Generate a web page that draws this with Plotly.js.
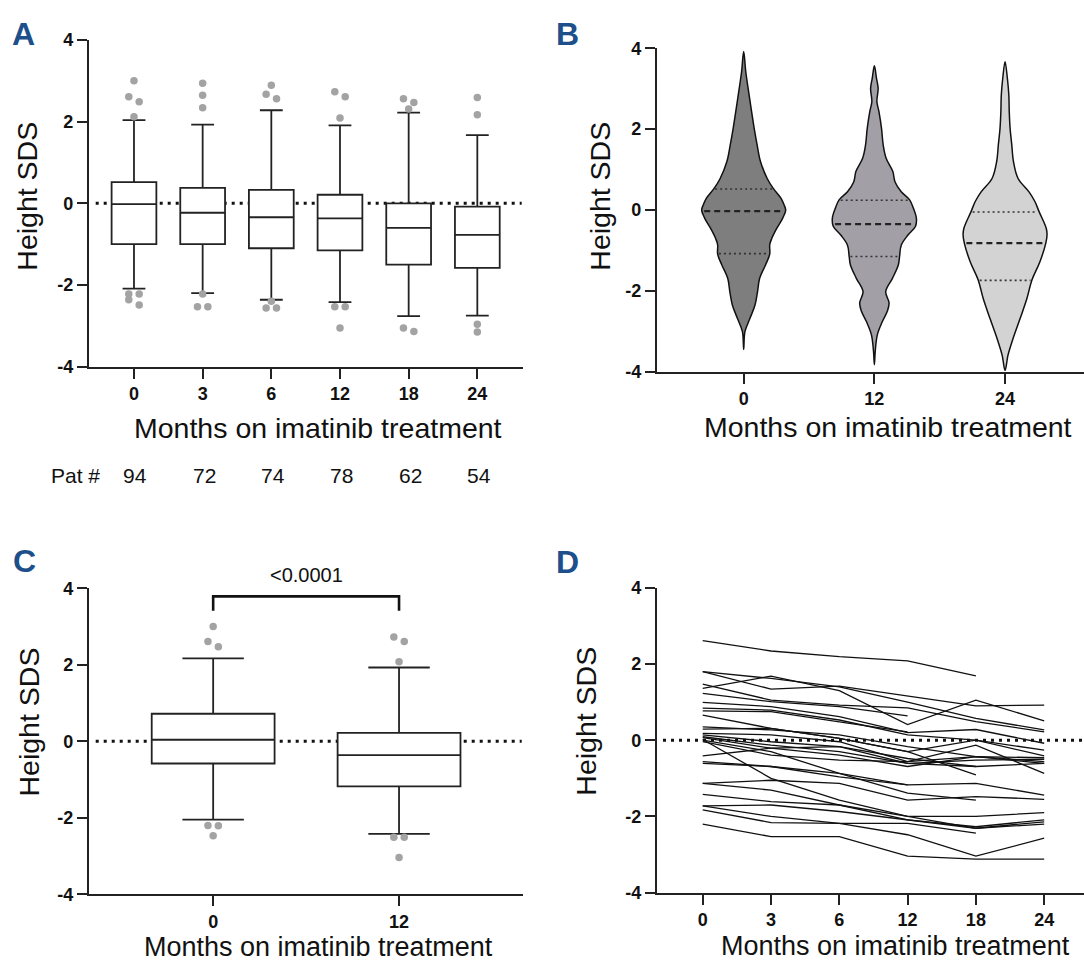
<!DOCTYPE html>
<html><head><meta charset="utf-8">
<script src="https://cdn.plot.ly/plotly-3.0.1.min.js"></script>
<style>html,body{margin:0;padding:0;background:#fff}#chart{width:1084px;height:964px}</style>
</head><body><div id="chart"></div>
<script>
// ---------- DATA ----------
// Panel A: box plots of height SDS by month
const monthsA = ['0', '3', '6', '12', '18', '24'];
const patCounts = [94, 72, 74, 78, 62, 54];
const aQ1 = [-1.00, -1.00, -1.10, -1.15, -1.50, -1.58];
const aMedian = [-0.02, -0.23, -0.34, -0.37, -0.60, -0.77];
const aQ3 = [0.52, 0.38, 0.33, 0.21, 0.00, -0.08];
const aLowerWhisker = [-2.09, -2.20, -2.36, -2.42, -2.76, -2.75];
const aUpperWhisker = [2.04, 1.93, 2.28, 1.91, 2.22, 1.67];
const aOutliers = [
  [3.00, 2.61, 2.49, 2.12, -2.22, -2.22, -2.36, -2.49],
  [2.94, 2.65, 2.34, -2.22, -2.53, -2.53],
  [2.89, 2.67, 2.56, -2.40, -2.56, -2.56],
  [2.73, 2.61, 2.09, -2.53, -2.53, -3.05],
  [2.56, 2.47, 2.31, -3.05, -3.14],
  [2.59, 2.17, -2.96, -3.15]
];

// Panel B: violin profiles (level -> relative density)
const monthsB = ['0', '12', '24'];
const v0Levels = [3.92, 3.42, 2.84, 2.02, 1.61, 1.20, 0.78, 0.54, 0.29, 0.13, 0.00, -0.20, -0.45, -0.70, -0.86, -1.09, -1.36, -1.69, -2.02, -2.35, -2.68, -3.01, -3.45];
const v0Density = [0, 0.05, 0.13, 0.25, 0.32, 0.40, 0.56, 0.70, 0.89, 0.96, 1.00, 0.93, 0.79, 0.67, 0.62, 0.62, 0.52, 0.38, 0.33, 0.27, 0.15, 0.03, 0];
const v1Levels = [3.57, 3.26, 3.01, 2.68, 2.43, 2.02, 1.61, 1.28, 0.95, 0.70, 0.45, 0.25, 0.04, -0.20, -0.40, -0.62, -0.87, -1.15, -1.36, -1.69, -2.02, -2.30, -2.50, -2.76, -3.09, -3.50, -3.83];
const v1Density = [0, 0.05, 0.09, 0.06, 0.11, 0.17, 0.21, 0.28, 0.44, 0.49, 0.64, 0.84, 0.93, 1.00, 0.98, 0.80, 0.64, 0.60, 0.57, 0.43, 0.27, 0.35, 0.31, 0.19, 0.07, 0.02, 0];
const v2Levels = [3.67, 3.26, 2.84, 2.43, 2.02, 1.61, 1.20, 0.78, 0.45, 0.21, -0.04, -0.45, -0.60, -0.82, -1.28, -1.73, -2.19, -2.68, -3.18, -3.59, -3.97];
const v2Density = [0, 0.055, 0.09, 0.10, 0.12, 0.16, 0.20, 0.31, 0.57, 0.71, 0.81, 0.98, 1.00, 0.97, 0.83, 0.64, 0.52, 0.36, 0.19, 0.07, 0];
const bQ1 = [-1.08, -1.15, -1.74];
const bMedian = [-0.03, -0.35, -0.82];
const bQ3 = [0.52, 0.24, -0.05];

// Panel C: box plots at 0 and 12 months
const monthsC = ['0', '12'];
const cQ1 = [-0.58, -1.18];
const cMedian = [0.04, -0.36];
const cQ3 = [0.72, 0.22];
const cLowerWhisker = [-2.05, -2.42];
const cUpperWhisker = [2.17, 1.93];
const cOutliers = [
  [3.00, 2.61, 2.47, -2.20, -2.21, -2.47],
  [2.73, 2.61, 2.08, -2.51, -2.51, -3.04]
];
const pValueText = '<0.0001';
const bracketTop = 3.79, bracketLeg = 3.41;

// Panel D: individual patient trajectories (months 0,3,6,12,18,24)
const monthsD = ['0', '3', '6', '12', '18', '24'];
const dLines = [
  [2.61, 2.34, 2.19, 2.08, 1.69, null],
  [1.80, 1.34, 1.42, 1.16, 0.90, 0.92],
  [1.36, 1.68, 1.30, 0.41, 1.05, 0.51],
  [1.80, 1.62, 1.40, 1.00, 0.57, 0.27],
  [1.47, 1.05, 0.92, 0.85, 0.49, 0.22],
  [1.23, 1.01, 0.88, 0.64, null, null],
  [0.99, 0.88, 0.62, 0.20, 0.28, -0.08],
  [0.84, 0.79, 0.53, 0.14, 0.00, -0.26],
  [0.77, 0.75, 0.48, 0.22, null, null],
  [0.66, 0.31, 0.05, -0.30, -0.91, null],
  [0.35, 0.27, 0.14, -0.17, -0.43, -0.61],
  [0.29, 0.31, 0.05, -0.30, 0.00, -0.41],
  [0.18, 0.14, -0.04, -0.56, -0.43, -0.46],
  [0.14, -0.04, -0.17, -0.48, -0.69, null],
  [0.09, -0.13, -0.30, -0.61, -0.52, -0.50],
  [0.07, -0.21, -0.39, -0.69, -0.43, -0.56],
  [0.02, -1.00, -1.57, -2.00, -2.31, -2.14],
  [0.00, -0.30, -0.87, -1.39, -1.57, null],
  [-0.04, -0.39, -0.52, -0.56, -0.13, -0.87],
  [-0.41, -0.21, -0.17, -0.61, -0.69, -0.61],
  [-0.56, -0.69, -0.96, -1.17, -1.13, -1.44],
  [-0.61, -0.69, -0.87, -1.17, null, null],
  [-1.13, -1.05, -1.13, -1.57, -1.48, -1.55],
  [-1.13, -1.31, -1.70, -2.09, -2.27, -2.09],
  [-1.42, -1.61, -1.70, -2.00, -2.00, -1.90],
  [-1.72, -2.00, -2.18, -2.18, -2.44, null],
  [-1.83, -2.16, -2.18, -2.48, -3.04, -2.57],
  [-2.20, -2.53, -2.53, -3.04, -3.12, -3.12],
  [-1.72, -1.70, -1.87, -2.09, -2.31, -2.20]
];

const yTicks = [-4, -2, 0, 2, 4];
const xTitle = 'Months on imatinib treatment';
const yTitle = 'Height SDS';

// ---------- LAYOUT GEOMETRY ----------
const W = 1084, H = 964;
const FONT = 'Liberation Sans, Arial, Helvetica, sans-serif';
const px = x => x / W;
const py = y => 1 - y / H;
const AXC = '#222';

const geo = {
  A: {x0: 88.8, x1: 523.4, yTop: 40.0, yBot: 366.7, range: [-0.658, 5.671]},
  B: {x0: 656.9, x1: 1084, yTop: 48.3, yBot: 371.7, range: [-0.664, 2.604]},
  C: {x0: 88.8, x1: 523.4, yTop: 588.3, yBot: 894.3, range: [-0.669, 1.669]},
  D: {x0: 656.9, x1: 1084, yTop: 587.7, yBot: 892.7, range: [-0.671, 5.583]}
};
function pxPerUnitX(g) { return (g.x1 - g.x0) / (g.range[1] - g.range[0]); }
function pxPerUnitY(g) { return (g.yBot - g.yTop) / 8; }

const tickFont = {family: FONT, size: 18, color: '#111', weight: 'bold'};
function xAxis(g, labels, anchor) {
  return {
    domain: [px(g.x0), px(g.x1)], range: g.range, anchor: anchor,
    tickvals: labels.map((_, i) => i), ticktext: labels,
    ticks: 'outside', ticklen: 10, tickwidth: 2, tickcolor: AXC,
    showline: true, linewidth: 2, linecolor: AXC, mirror: false,
    showgrid: false, zeroline: false, automargin: false, fixedrange: true,
    tickfont: tickFont
  };
}
function yAxis(g, anchor) {
  return {
    domain: [py(g.yBot), py(g.yTop)], range: [-4, 4], anchor: anchor,
    tickvals: yTicks, ticktext: yTicks.map(String),
    ticks: 'outside', ticklen: 10, tickwidth: 2, tickcolor: AXC,
    showline: true, linewidth: 2, linecolor: AXC,
    showgrid: false, zeroline: false, automargin: false, fixedrange: true,
    tickfont: tickFont
  };
}

// Spread overlapping outliers left/right like a dot plot
function dodge(values, center, g) {
  const offX = 5.2 / pxPerUnitX(g);
  const thr = 6.2 / pxPerUnitY(g);
  const sorted = values.slice().sort((a, b) => b - a);
  const clusters = [];
  sorted.forEach(v => {
    const last = clusters[clusters.length - 1];
    if (last && Math.abs(last[last.length - 1] - v) < thr) last.push(v);
    else clusters.push([v]);
  });
  const xs = [], ys = [];
  clusters.forEach(c => {
    let k = 0;
    if (c.length % 2 === 1) { xs.push(center); ys.push(c[0]); k = 1; }
    let side = -1;
    for (; k < c.length; k++) { xs.push(center + side * offX); ys.push(c[k]); side = -side; }
  });
  return {xs, ys};
}

const traces = [];

// ---------- Panel A ----------
traces.push({
  type: 'box', xaxis: 'x', yaxis: 'y', x: monthsA.map((_, i) => i),
  q1: aQ1, median: aMedian, q3: aQ3, lowerfence: aLowerWhisker, upperfence: aUpperWhisker,
  boxpoints: false, fillcolor: '#ffffff', line: {color: AXC, width: 1.8},
  whiskerwidth: 0.51, width: 0.652, hoverinfo: 'skip'
});
(function () {
  const xs = [], ys = [];
  aOutliers.forEach((vals, i) => { const d = dodge(vals, i, geo.A); xs.push(...d.xs); ys.push(...d.ys); });
  traces.push({type: 'scatter', mode: 'markers', xaxis: 'x', yaxis: 'y', x: xs, y: ys,
    marker: {color: '#a3a3a3', size: 7.5}, hoverinfo: 'skip', cliponaxis: false});
})();

// ---------- Panel B ----------
const vScale = 42 / pxPerUnitX(geo.B);
const violins = [
  {levels: v0Levels, dens: v0Density, fill: '#7e7e7e'},
  {levels: v1Levels, dens: v1Density, fill: '#a2a0a6'},
  {levels: v2Levels, dens: v2Density, fill: '#d3d3d3'}
];
function densAt(levels, dens, q) {
  for (let i = 0; i < levels.length - 1; i++) {
    if (q <= levels[i] && q >= levels[i + 1]) {
      const t = (levels[i] - q) / (levels[i] - levels[i + 1]);
      return dens[i] + t * (dens[i + 1] - dens[i]);
    }
  }
  return 0;
}
violins.forEach((v, i) => {
  const xs = [], ys = [];
  for (let k = 0; k < v.levels.length; k++) { xs.push(i + v.dens[k] * vScale); ys.push(v.levels[k]); }
  for (let k = v.levels.length - 2; k >= 0; k--) { xs.push(i - v.dens[k] * vScale); ys.push(v.levels[k]); }
  traces.push({type: 'scatter', mode: 'lines', xaxis: 'x2', yaxis: 'y2', x: xs, y: ys,
    fill: 'toself', fillcolor: v.fill, line: {color: '#111', width: 1.5, shape: 'spline', smoothing: 1},
    hoverinfo: 'skip'});
  const stats = [[bQ3[i], 'q'], [bMedian[i], 'm'], [bQ1[i], 'q']];
  stats.forEach(([q, kind]) => {
    const hw = densAt(v.levels, v.dens, q) * vScale * 0.95;
    traces.push({type: 'scatter', mode: 'lines', xaxis: 'x2', yaxis: 'y2',
      x: [i - hw, i + hw], y: [q, q], hoverinfo: 'skip',
      line: kind === 'm' ? {color: '#222', width: 2.2, dash: '6px,4px'} : {color: '#333', width: 1.6, dash: '2px,3px'}});
  });
});

// ---------- Panel C ----------
traces.push({
  type: 'box', xaxis: 'x3', yaxis: 'y3', x: monthsC.map((_, i) => i),
  q1: cQ1, median: cMedian, q3: cQ3, lowerfence: cLowerWhisker, upperfence: cUpperWhisker,
  boxpoints: false, fillcolor: '#ffffff', line: {color: AXC, width: 1.8},
  whiskerwidth: 0.5, width: 0.661, hoverinfo: 'skip'
});
(function () {
  const xs = [], ys = [];
  cOutliers.forEach((vals, i) => { const d = dodge(vals, i, geo.C); xs.push(...d.xs); ys.push(...d.ys); });
  traces.push({type: 'scatter', mode: 'markers', xaxis: 'x3', yaxis: 'y3', x: xs, y: ys,
    marker: {color: '#a3a3a3', size: 7.5}, hoverinfo: 'skip', cliponaxis: false});
})();
traces.push({type: 'scatter', mode: 'lines', xaxis: 'x3', yaxis: 'y3',
  x: [0, 0, 1, 1], y: [bracketLeg, bracketTop, bracketTop, bracketLeg],
  line: {color: '#111', width: 2.6}, hoverinfo: 'skip'});

// ---------- Panel D ----------
dLines.forEach(l => {
  traces.push({type: 'scatter', mode: 'lines', xaxis: 'x4', yaxis: 'y4',
    x: monthsD.map((_, i) => i), y: l, line: {color: '#111', width: 1.3},
    connectgaps: false, hoverinfo: 'skip'});
});

// ---------- Shapes (zero reference lines) ----------
function zeroLine(xref, yref, g, xStartPx, xEndPx) {
  const ppu = pxPerUnitX(g);
  return {type: 'line', xref: xref, yref: yref,
    x0: g.range[0] + (xStartPx - g.x0) / ppu, x1: g.range[0] + (xEndPx - g.x0) / ppu, y0: 0, y1: 0,
    layer: 'below', line: {color: '#111', width: 3, dash: '3px,5px'}};
}
const shapes = [
  zeroLine('x', 'y', geo.A, 95.7, 521.7),
  zeroLine('x3', 'y3', geo.C, 95.7, 521.7),
  zeroLine('x4', 'y4', geo.D, 663, 1084)
];

// ---------- Annotations ----------
const ann = [];
function txt(x, y, text, size, opts) {
  ann.push(Object.assign({xref: 'paper', yref: 'paper', x: px(x), y: py(y), text: text,
    showarrow: false, xanchor: 'center', yanchor: 'middle',
    font: {family: FONT, size: size, color: '#111'}}, opts || {}));
}
// axis titles
txt(317.7, 428.3, xTitle, 28.5);
txt(888, 427, xTitle, 28.5);
txt(318.5, 947, xTitle, 27);
txt(895, 946, xTitle, 27);
txt(27, 196.7, yTitle, 28.5, {textangle: -90});
txt(600, 196.7, yTitle, 28.5, {textangle: -90});
txt(28, 722.5, yTitle, 28.5, {textangle: -90});
txt(586, 721.7, yTitle, 28.5, {textangle: -90});
// panel letters
const letterFont = {family: FONT, size: 32, color: '#1d4f8b', weight: 'bold'};
txt(23, 34.5, 'A', 32, {font: letterFont});
txt(567, 34, 'B', 32, {font: letterFont});
txt(24, 561, 'C', 32, {font: letterFont});
txt(567, 562, 'D', 32, {font: letterFont});
// patient numbers row
txt(75, 475, 'Pat #', 21);
patCounts.forEach((n, i) => {
  ann.push({xref: 'x', yref: 'paper', x: i, y: py(475), text: String(n), showarrow: false,
    xanchor: 'center', yanchor: 'middle', xshift: 1.5, font: {family: FONT, size: 21, color: '#111'}});
});
// p-value
txt(306, 575, pValueText, 20);

const layout = {
  width: W, height: H, margin: {l: 0, r: 0, t: 0, b: 0},
  paper_bgcolor: '#ffffff', plot_bgcolor: 'rgba(0,0,0,0)', showlegend: false,
  xaxis: xAxis(geo.A, monthsA, 'y'), yaxis: yAxis(geo.A, 'x'),
  xaxis2: xAxis(geo.B, monthsB, 'y2'), yaxis2: yAxis(geo.B, 'x2'),
  xaxis3: xAxis(geo.C, monthsC, 'y3'), yaxis3: yAxis(geo.C, 'x3'),
  xaxis4: xAxis(geo.D, monthsD, 'y4'), yaxis4: yAxis(geo.D, 'x4'),
  shapes: shapes, annotations: ann
};
Plotly.newPlot('chart', traces, layout, {staticPlot: true, displayModeBar: false});
</script></body></html>
